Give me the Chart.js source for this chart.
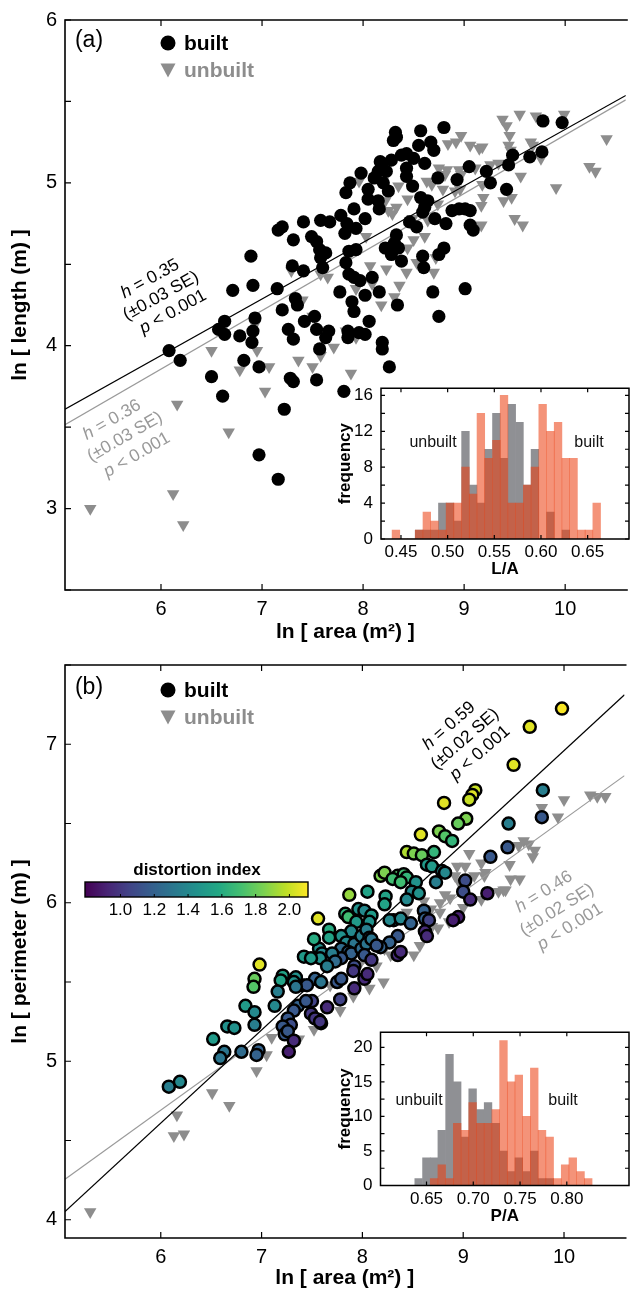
<!DOCTYPE html>
<html>
<head>
<meta charset="utf-8">
<title>Built vs unbuilt: length and perimeter scaling</title>
<script src="https://cdn.jsdelivr.net/npm/chart.js@4.4.1/dist/chart.umd.min.js"></script>
<style>
  html, body { margin: 0; padding: 0; background: #fff; }
  #page { position: relative; width: 633px; height: 1289px; overflow: hidden; }
  canvas { position: absolute; display: block; }
</style>
</head>
<body>
<div id="page">
  <canvas id="chartA" width="633" height="645" style="left:0;top:0"></canvas>
  <canvas id="chartB" width="633" height="644" style="left:0;top:645px"></canvas>
  <canvas id="histA" width="303" height="210" style="left:330px;top:370px"></canvas>
  <canvas id="histB" width="303" height="212" style="left:330px;top:1014px"></canvas>
</div>
<script>
// axis ticks
const areaTicks = [6, 7, 8, 9, 10];
const lengthTicks = [2.5, 3, 3.5, 4, 4.5, 5, 5.5, 6];
const lengthLabels = [3, 4, 5, 6];
const perimTicks = [4, 4.5, 5, 5.5, 6, 6.5, 7, 7.5];
const perimLabels = [4, 5, 6, 7];

// (a) ln area vs ln length
const builtA = [
  [6.08,3.97],[6.19,3.91],[6.50,3.81],[6.63,4.15],[6.57,4.10],[6.63,4.07],[6.71,4.34],[6.78,4.06],
  [6.82,3.91],[6.89,4.55],[6.91,4.37],[6.93,4.17],[6.91,4.09],[6.90,4.02],[6.97,3.87],[7.15,4.35],
  [7.16,4.71],[7.20,4.73],[7.20,4.22],[7.26,4.10],[7.31,4.04],[7.31,4.65],[7.33,4.29],[7.35,4.25],
  [7.30,4.49],[7.41,4.76],[7.41,4.46],[7.42,4.15],[7.52,4.18],[7.54,4.10],[7.49,4.67],[7.54,4.64],
  [7.57,4.59],[7.63,4.57],[7.58,4.54],[7.58,4.77],[7.67,4.76],[7.60,4.48],[7.66,4.09],[7.63,4.05],
  [7.57,3.98],[7.28,3.80],[7.31,3.78],[7.54,3.79],[7.77,4.33],[7.83,4.51],[7.86,4.58],[7.93,4.59],
  [7.86,4.44],[7.91,4.42],[7.97,4.40],[8.09,4.42],[7.89,4.27],[7.91,4.21],[8.02,4.31],[7.85,4.09],
  [7.85,4.05],[7.96,4.08],[8.02,4.07],[8.06,4.15],[7.78,4.80],[7.84,4.75],[7.91,4.84],[7.93,4.72],
  [7.82,4.69],[7.87,5.00],[7.83,4.94],[7.98,5.06],[8.02,4.78],[8.05,4.96],[8.05,4.90],[8.11,5.03],
  [7.81,3.72],[8.26,3.87],[8.19,4.02],[8.19,3.98],[6.61,3.69],[6.97,3.33],[7.16,3.18],[7.22,3.61],
  [8.32,5.31],[8.33,5.28],[8.57,5.32],[8.80,5.34],[8.55,5.23],[8.67,5.25],[8.70,5.20],[8.30,5.26],
  [8.38,5.17],[8.43,5.18],[8.50,5.15],[8.61,5.12],[8.28,5.14],[8.17,5.13],[8.18,5.10],[8.43,5.09],
  [8.43,5.04],[8.23,5.07],[8.15,5.07],[8.20,5.00],[8.25,4.95],[8.15,4.89],[8.16,4.84],[8.49,4.98],
  [8.74,5.03],[8.93,5.02],[9.05,5.10],[9.22,5.07],[9.26,5.00],[9.42,4.96],[9.44,5.11],[9.48,5.17],
  [9.65,5.16],[9.77,5.19],[9.78,5.38],[9.97,5.37],[8.57,4.91],[8.64,4.89],[8.61,4.85],[8.59,4.82],
  [8.71,4.78],[8.46,4.76],[8.53,4.73],[8.82,4.75],[8.88,4.83],[8.95,4.84],[9.01,4.84],[9.06,4.83],
  [9.06,4.74],[9.09,4.71],[8.33,4.68],[8.31,4.63],[8.35,4.60],[8.28,4.56],[8.22,4.60],[8.38,4.52],
  [8.59,4.55],[8.60,4.48],[8.80,4.60],[8.75,4.56],[8.16,4.33],[8.69,4.33],[9.01,4.35],[8.34,4.25],
  [8.75,4.18]
];
const unbuiltA = [
  [6.50,3.97],[6.78,3.85],[6.95,3.97],[7.07,3.87],[7.36,3.91],[7.50,3.87],[7.29,4.46],[7.40,4.28],
  [7.58,4.44],[7.65,4.42],[7.71,3.99],[7.88,3.83],[7.93,4.35],[7.96,5.01],[8.07,4.49],[8.09,4.38],
  [8.03,4.67],[7.83,4.09],[7.93,4.05],[6.93,4.13],[7.03,3.72],[7.58,3.94],[7.50,4.18],
  [5.30,3.00],[6.12,3.09],[6.22,2.90],[6.16,3.64],[6.67,3.47],
  [9.38,5.39],[9.42,5.35],[9.45,5.29],[9.44,5.23],[9.46,5.20],[9.55,5.42],[9.71,5.41],[9.99,5.42],
  [10.41,5.27],[8.97,5.29],[8.84,5.24],[8.92,5.25],[9.06,5.23],[9.15,5.21],[9.18,5.22],[9.66,5.25],
  [9.68,5.23],[9.76,5.15],[8.75,5.09],[8.83,5.08],[8.81,5.05],[8.95,5.08],[8.97,5.05],[9.11,5.09],
  [9.26,5.11],[9.34,5.12],[9.56,5.04],[10.24,5.10],[10.30,5.07],[9.91,4.97],[8.63,5.01],[8.68,4.99],
  [8.35,4.98],[8.79,4.96],[8.91,4.95],[8.96,4.96],[9.18,4.99],[9.19,4.91],[9.17,4.86],[9.39,4.89],
  [9.47,4.91],[9.50,4.78],[9.58,4.74],[9.17,4.74],[8.44,4.90],[8.22,4.89],[8.25,4.83],[8.29,4.81],
  [8.33,4.85],[8.74,4.87],[8.64,4.77],[8.49,4.78],[8.61,4.67],[8.50,4.65],[8.44,4.60],[8.72,4.54],
  [8.53,4.51],[8.70,4.45],[8.23,4.47],[8.43,4.45],[8.36,4.37],[8.31,4.30],[8.18,4.25]
];
// fitted lines, end points read at the frame edges
const fitBuiltA = [[5.05, 3.61], [10.6, 5.537]];
const fitUnbuiltA = [[5.05, 3.515], [10.6, 5.51]];

// (b) ln area vs ln perimeter, built points carry distortion index
const builtB = [
  [9.98,7.225,2.10],[9.66,7.11,2.05],[9.50,6.87,2.05],[9.12,6.71,2.00],[9.09,6.68,2.05],[9.06,6.65,2.00],
  [8.81,6.63,2.05],[9.03,6.53,1.85],[8.95,6.50,1.80],[8.58,6.43,2.05],[8.76,6.45,1.85],[8.82,6.42,1.75],
  [8.89,6.39,1.65],[8.44,6.32,1.95],[8.51,6.31,1.85],[8.59,6.30,1.80],[8.71,6.32,1.65],[8.64,6.24,1.50],
  [8.69,6.23,1.50],[8.79,6.20,1.40],[8.82,6.19,1.40],[8.73,6.13,1.35],[9.79,6.71,1.35],[9.45,6.50,1.35],
  [9.78,6.54,1.15],[9.44,6.35,1.15],[9.27,6.29,1.15],[9.02,6.14,1.10],[9.00,6.07,1.10],[9.07,6.02,0.95],
  [9.24,6.06,0.90],[8.95,5.91,0.90],[8.90,5.89,0.90],[8.18,6.17,1.85],[8.22,6.19,1.85],[8.35,6.17,1.75],
  [8.41,6.18,1.70],[8.44,6.16,1.65],[8.23,6.04,1.55],[8.22,5.99,1.55],[8.30,6.15,1.70],[8.38,6.13,1.70],
  [8.53,6.13,1.45],[8.49,6.07,1.40],[8.44,6.02,1.40],[8.56,6.06,1.45],[8.61,5.95,1.20],[8.62,5.90,1.20],
  [8.66,5.89,1.05],[8.62,5.82,0.95],[8.64,5.79,0.95],[8.31,5.89,1.40],[8.27,5.89,1.40],[8.38,5.90,1.40],
  [8.48,5.87,1.20],[8.35,5.79,1.15],[8.27,5.75,1.20],[8.18,5.72,1.20],[8.35,5.67,0.95],[8.38,5.69,0.95],
  [7.87,6.05,1.90],[8.05,6.07,1.55],[7.83,5.93,1.65],[7.86,5.91,1.70],[7.96,5.96,1.45],[8.02,5.95,1.40],
  [8.09,5.92,1.50],[8.07,5.88,1.45],[7.94,5.88,1.50],[7.89,5.82,1.40],[7.79,5.79,1.45],[7.84,5.75,1.40],
  [7.92,5.74,1.30],[7.99,5.79,1.35],[8.04,5.83,1.35],[8.07,5.78,1.20],[7.79,5.71,1.25],[7.86,5.69,1.20],
  [7.89,5.68,1.20],[7.99,5.71,1.25],[8.04,5.74,1.30],[8.09,5.77,1.30],[8.14,5.73,1.15],[8.02,5.67,1.15],
  [8.09,5.64,1.00],[7.92,5.60,1.10],[7.91,5.57,1.00],[7.79,5.65,1.15],[7.92,5.46,0.95],[8.02,5.52,0.95],
  [8.05,5.55,0.95],[7.78,5.39,1.05],[7.65,5.34,0.95],[7.57,5.26,0.90],[7.59,5.24,0.90],[7.56,5.90,2.05],
  [7.67,5.83,1.60],[7.67,5.78,1.55],[7.57,5.71,1.45],[7.60,5.68,1.40],[7.58,5.65,1.45],[7.42,5.66,1.50],
  [7.49,5.65,1.50],[7.53,5.52,1.20],[7.59,5.50,1.30],[7.40,5.48,1.15],[7.45,5.48,1.15],[7.34,5.53,1.45],
  [7.32,5.50,1.45],[7.21,5.54,1.55],[7.19,5.51,1.55],[7.16,5.44,1.35],[7.36,5.35,1.20],[7.32,5.32,1.15],
  [7.26,5.27,1.15],[7.29,5.23,1.10],[7.21,5.22,1.15],[7.23,5.17,1.15],[7.26,5.19,1.15],[7.32,5.13,0.95],
  [7.27,5.06,0.90],[7.49,5.30,1.00],[7.53,5.27,1.00],[7.58,5.25,1.00],[7.50,5.38,1.05],[7.44,5.38,1.15],
  [6.98,5.61,2.05],[6.93,5.52,1.80],[6.92,5.47,1.75],[6.84,5.35,1.50],[6.93,5.31,1.40],[6.93,5.23,1.35],
  [6.97,5.07,1.20],[6.95,5.04,1.20],[6.80,5.06,1.25],[6.66,5.22,1.45],[6.73,5.21,1.45],[6.52,5.14,1.50],
  [6.63,5.06,1.30],[6.59,5.02,1.30],[7.13,5.35,1.40],[7.34,5.47,1.30],[7.52,5.77,1.60],[7.70,5.68,1.35],
  [7.73,5.63,1.25],[7.75,5.50,1.15],[7.79,5.52,1.15],[7.65,5.60,1.35],[6.08,4.84,1.35],[6.19,4.87,1.40]
];
const unbuiltB = [
  [10.00,6.65],[10.26,6.68],[10.33,6.67],[10.41,6.67],[9.94,6.54],[9.78,6.60],[9.60,6.39],[9.65,6.37],
  [9.71,6.33],[9.69,6.29],[9.55,6.36],[9.46,6.24],[9.06,6.31],[9.18,6.25],[9.22,6.19],[8.94,6.23],
  [9.11,6.17],[9.21,6.17],[9.47,6.15],[9.56,6.15],[9.35,6.07],[9.40,6.08],[9.18,6.02],[8.92,6.17],
  [8.96,6.13],[8.82,6.05],[8.87,6.03],[8.61,6.01],[9.00,5.97],[8.77,5.94],[8.69,5.85],[8.75,5.84],
  [8.57,5.73],[8.51,5.67],[8.44,5.94],[8.68,5.96],[8.77,6.00],[8.86,5.88],[8.63,5.85],[9.42,6.08],
  [9.02,6.23],[8.21,5.50],[7.97,5.61],[7.68,5.48],[7.52,5.20],[7.37,5.14],[7.10,5.15],[7.05,5.04],
  [6.95,4.94],[8.22,5.71],[8.28,5.67],[8.14,5.60],[8.07,5.46],[7.91,5.41],[7.78,5.32],
  [5.30,4.05],[6.16,4.66],[6.13,4.53],[6.23,4.54],[6.51,4.80],[6.68,4.72]
];
const fitBuiltB = [[5.05, 4.052], [10.6, 7.3125]];
const fitUnbuiltB = [[5.05, 4.256], [10.6, 6.802]];

// colour bar (distortion index)
const cbMin = 0.79, cbMax = 2.11;
const cbTicks = [1.0, 1.2, 1.4, 1.6, 1.8, 2.0];

// inset histograms
const binsLA = [0.4446,0.4529,0.4612,0.4694,0.4777,0.4860,0.4943,0.5025,0.5108,0.5191,0.5273,0.5356,0.5439,
  0.5522,0.5604,0.5687,0.5770,0.5852,0.5935,0.6018,0.6101,0.6183,0.6266,0.6349,0.6432,0.6514,0.6597];
const builtLA   = [1,0,0,1,3,2,1,4,4,8,5,14,9,11,16,4,4,6,8,15,12,13,9,9,1,1,4];
const unbuiltLA = [0,0,0,1,1,1,4,4,2,12,6,4,10,14,9,15,13,6,10,0,3,0,1,0,0,0,0];
const ticksLA = [0.45, 0.50, 0.55, 0.60, 0.65];

const binsPA = [0.6416,0.6499,0.6581,0.6663,0.6746,0.6828,0.6911,0.6993,0.7075,0.7158,0.7240,0.7323,
  0.7405,0.7487,0.7570,0.7652,0.7735,0.7817,0.7899,0.7982,0.8064,0.8147,0.8229];
const builtPA   = [0,0,1,3,1,9,8,12,9,9,11,21,15,16,10,17,8,7,1,3,4,2,1];
const unbuiltPA = [1,4,4,8,19,15,7,14,11,12,9,5,2,4,2,5,1,1,0,0,0,0,0];
const ticksPA = [0.65, 0.70, 0.75, 0.80];

const FONT = "'Liberation Sans', Arial, Helvetica, sans-serif";
const GREY = '#8d8d8d';
Chart.defaults.font.family = FONT;
Chart.defaults.color = '#000';

const viridisStops = [[68,1,84],[72,36,117],[65,68,135],[53,95,141],[42,120,142],[33,145,140],
  [34,168,132],[68,191,112],[122,209,81],[189,223,38],[253,231,37]];

function viridis(v) {
  let t = (v - cbMin) / (cbMax - cbMin);
  t = Math.max(0, Math.min(1, t)) * 10;
  const i = Math.min(9, Math.floor(t));
  const f = t - i;
  const a = viridisStops[i], b = viridisStops[i + 1];
  const c = a.map((ch, k) => Math.round(ch + (b[k] - ch) * f));
  return `rgb(${c[0]},${c[1]},${c[2]})`;
}

const toXY = arr => arr.map(p => ({ x: p[0], y: p[1] }));

// draw text made of parts, some italic, centred and rotated
function richText(ctx, parts, x, y, angle, size, color) {
  ctx.save();
  ctx.translate(x, y);
  ctx.rotate(angle * Math.PI / 180);
  ctx.fillStyle = color;
  ctx.textBaseline = 'middle';
  ctx.textAlign = 'left';
  const fontOf = p => `${p.i ? 'italic ' : ''}${p.b ? 'bold ' : ''}${size}px ${FONT}`;
  let w = 0;
  parts.forEach(p => { ctx.font = fontOf(p); w += ctx.measureText(p.t).width; });
  let cx = -w / 2;
  parts.forEach(p => { ctx.font = fontOf(p); ctx.fillText(p.t, cx, 0); cx += ctx.measureText(p.t).width; });
  ctx.restore();
}

function statLines(h, se) {
  return [
    [{ t: 'h', i: true }, { t: ' = ' + h }],
    [{ t: '(±' + se + ' SE)' }],
    [{ t: 'p', i: true }, { t: ' < 0.001' }]
  ];
}

// frame with inward ticks
function framePlugin(opts) {
  return {
    id: 'frame',
    beforeDatasetsDraw(chart) {
      if (!opts.fill) return;
      const { ctx, chartArea: a } = chart;
      ctx.save();
      ctx.fillStyle = '#fff';
      ctx.fillRect(a.left, a.top, a.right - a.left, a.bottom - a.top);
      ctx.restore();
    },
    afterDatasetsDraw(chart) {
      const { ctx, chartArea: a, scales } = chart;
      const x = scales.x, y = scales.y;
      ctx.save();
      ctx.strokeStyle = '#000';
      ctx.lineWidth = 1.2;
      ctx.beginPath();
      x.ticks.forEach(t => {
        const px = x.getPixelForValue(t.value);
        ctx.moveTo(px, a.bottom); ctx.lineTo(px, a.bottom - opts.len);
        ctx.moveTo(px, a.top); ctx.lineTo(px, a.top + opts.len);
      });
      y.ticks.forEach(t => {
        const py = y.getPixelForValue(t.value);
        ctx.moveTo(a.left, py); ctx.lineTo(a.left + opts.len, py);
        if (opts.right) { ctx.moveTo(a.right, py); ctx.lineTo(a.right - opts.len, py); }
      });
      ctx.stroke();
      ctx.lineWidth = opts.width;
      ctx.beginPath();
      if (opts.right) {
        ctx.rect(a.left, a.top, a.right - a.left, a.bottom - a.top);
      } else {
        ctx.moveTo(a.right + 2, a.top); ctx.lineTo(a.left, a.top);
        ctx.lineTo(a.left, a.bottom); ctx.lineTo(a.right + 2, a.bottom);
      }
      ctx.stroke();
      ctx.restore();
    }
  };
}

function legendBlock(ctx, tag, tagY, circleY, triY, circleFill) {
  ctx.save();
  ctx.textBaseline = 'middle';
  ctx.font = `23px ${FONT}`;
  ctx.fillStyle = '#000';
  ctx.textAlign = 'center';
  ctx.fillText(tag, 89, tagY);
  ctx.beginPath();
  ctx.arc(168, circleY, 7.5, 0, Math.PI * 2);
  ctx.fillStyle = circleFill;
  ctx.fill();
  ctx.fillStyle = GREY;
  ctx.beginPath();
  ctx.moveTo(160.5, triY - 6.5); ctx.lineTo(175.5, triY - 6.5); ctx.lineTo(168, triY + 7.5);
  ctx.closePath();
  ctx.fill();
  ctx.textAlign = 'left';
  ctx.font = `bold 21px ${FONT}`;
  ctx.fillStyle = '#000';
  ctx.fillText('built', 184, circleY + 1);
  ctx.fillStyle = GREY;
  ctx.fillText('unbuilt', 184, triY + 1);
  ctx.restore();
}

function scatterScales(yMin, yMax, yTicks, yLabels, yTitle, xHeight, titlePad) {
  return {
    x: {
      type: 'linear', min: 5.05, max: 10.6,
      afterBuildTicks: s => { s.ticks = areaTicks.map(v => ({ value: v })); },
      afterFit: s => { s.height = xHeight; },
      grid: { display: false, drawTicks: false },
      border: { display: false },
      ticks: { font: { size: 20 }, padding: 7, maxRotation: 0, autoSkip: false, color: '#000' },
      title: { display: true, text: 'ln [ area (m²) ]', color: '#000',
        font: { size: 21, weight: 'bold', lineHeight: 1 }, padding: { top: 0, bottom: titlePad } }
    },
    y: {
      type: 'linear', min: yMin, max: yMax,
      afterBuildTicks: s => { s.ticks = yTicks.map(v => ({ value: v })); },
      afterFit: s => { s.width = 65; },
      grid: { display: false, drawTicks: false },
      border: { display: false },
      ticks: { font: { size: 20 }, padding: 8, color: '#000', autoSkip: false,
        callback: v => yLabels.includes(v) ? String(v) : '' },
      title: { display: true, text: yTitle, color: '#000',
        font: { size: 21, weight: 'bold', lineHeight: 1 }, padding: { top: 9.5, bottom: 0 } }
    }
  };
}

// panel (a)
function drawPanelA() {
  new Chart(document.getElementById('chartA'), {
    type: 'scatter',
    data: {
      datasets: [
        { label: 'built', data: toXY(builtA), pointStyle: 'circle', pointRadius: 6.6,
          backgroundColor: '#000', borderWidth: 0, order: 0 },
        { type: 'line', data: toXY(fitBuiltA), borderColor: '#000', borderWidth: 1.2, pointRadius: 0, order: 1 },
        { type: 'line', data: toXY(fitUnbuiltA), borderColor: '#9a9a9a', borderWidth: 1.2, pointRadius: 0, order: 1 },
        { label: 'unbuilt', data: toXY(unbuiltA), pointStyle: 'triangle', pointRotation: 180, pointRadius: 7.2,
          backgroundColor: GREY, borderWidth: 0, order: 2 }
      ]
    },
    options: {
      responsive: false, animation: false, devicePixelRatio: 1, events: [],
      layout: { padding: { top: 16, right: 0, left: 0, bottom: 0 } },
      plugins: { legend: { display: false }, tooltip: { enabled: false } },
      scales: scatterScales(2.5, 6, lengthTicks, lengthLabels, 'ln [ length (m) ]', 55, 2.5)
    },
    plugins: [framePlugin({ len: 6, width: 1.6, right: false }), {
      id: 'notesA',
      afterDraw(chart) {
        const ctx = chart.ctx;
        legendBlock(ctx, '(a)', 41, 43, 70, '#000');
        const bl = statLines('0.35', '0.03');
        const bpos = [[150, 279], [161, 296], [173, 312]];
        bl.forEach((l, i) => richText(ctx, l, bpos[i][0], bpos[i][1], -29, 17.5, '#000'));
        const gl = statLines('0.36', '0.03');
        const gpos = [[112, 420], [125, 437], [137, 455]];
        gl.forEach((l, i) => richText(ctx, l, gpos[i][0], gpos[i][1], -30, 17.5, '#999'));
      }
    }]
  });
}

// panel (b)
function drawPanelB() {
  new Chart(document.getElementById('chartB'), {
    type: 'scatter',
    data: {
      datasets: [
        { label: 'built', data: toXY(builtB), pointStyle: 'circle', pointRadius: 6,
          pointBackgroundColor: builtB.map(p => viridis(p[2])), pointBorderColor: '#000',
          pointBorderWidth: 2.5, order: 0 },
        { type: 'line', data: toXY(fitBuiltB), borderColor: '#000', borderWidth: 1.2, pointRadius: 0, order: 1 },
        { type: 'line', data: toXY(fitUnbuiltB), borderColor: '#9a9a9a', borderWidth: 1.2, pointRadius: 0, order: 1 },
        { label: 'unbuilt', data: toXY(unbuiltB), pointStyle: 'triangle', pointRotation: 180, pointRadius: 7.2,
          backgroundColor: GREY, borderWidth: 0, order: 2 }
      ]
    },
    options: {
      responsive: false, animation: false, devicePixelRatio: 1, events: [],
      layout: { padding: { top: 15, right: 0, left: 0, bottom: 0 } },
      plugins: { legend: { display: false }, tooltip: { enabled: false } },
      scales: scatterScales(3.885, 7.5, perimTicks, perimLabels, 'ln [ perimeter (m) ]', 51, 0.5)
    },
    plugins: [framePlugin({ len: 6, width: 1.6, right: false }), {
      id: 'notesB',
      afterDraw(chart) {
        const ctx = chart.ctx;
        legendBlock(ctx, '(b)', 43, 45, 72, '#000');
        const bl = statLines('0.59', '0.02');
        const bpos = [[449, 81], [465, 94], [480, 108]];
        bl.forEach((l, i) => richText(ctx, l, bpos[i][0], bpos[i][1], -41, 17.5, '#000'));
        const gl = statLines('0.46', '0.02');
        const gpos = [[544, 247], [557, 265], [570, 282]];
        gl.forEach((l, i) => richText(ctx, l, gpos[i][0], gpos[i][1], -32, 17.5, '#999'));

        // colour bar
        const x0 = 85, x1 = 308, y0 = 237, y1 = 252;
        const g = ctx.createLinearGradient(x0, 0, x1, 0);
        viridisStops.forEach((c, i) => g.addColorStop(i / 10, `rgb(${c[0]},${c[1]},${c[2]})`));
        ctx.save();
        ctx.fillStyle = g;
        ctx.fillRect(x0, y0, x1 - x0, y1 - y0);
        ctx.strokeStyle = '#000';
        ctx.lineWidth = 1.4;
        ctx.strokeRect(x0, y0, x1 - x0, y1 - y0);
        ctx.lineWidth = 1;
        ctx.fillStyle = '#000';
        ctx.textAlign = 'center';
        ctx.textBaseline = 'middle';
        ctx.font = `17px ${FONT}`;
        cbTicks.forEach(v => {
          const px = x0 + (v - cbMin) / (cbMax - cbMin) * (x1 - x0);
          ctx.beginPath();
          ctx.moveTo(px, y1); ctx.lineTo(px, y1 - 3);
          ctx.stroke();
          ctx.fillText(v.toFixed(1), px, 265);
        });
        ctx.font = `bold 17px ${FONT}`;
        ctx.fillText('distortion index', 197, 225);
        ctx.restore();
      }
    }]
  });
}

// inset histogram
function drawHist(id, bins, built, unbuilt, xMin, xMax, yMax, xTicks, yTicks, yLabels, xTitle, geo, notes) {
  new Chart(document.getElementById(id), {
    type: 'bar',
    data: {
      datasets: [
        { label: 'built', data: bins.map((b, i) => ({ x: b, y: built[i] })),
          backgroundColor: 'rgba(235,62,16,0.56)', borderWidth: 0,
          grouped: false, barPercentage: 1, categoryPercentage: 1 },
        { label: 'unbuilt', data: bins.map((b, i) => ({ x: b, y: unbuilt[i] })),
          backgroundColor: '#8f9094', borderWidth: 0,
          grouped: false, barPercentage: 1, categoryPercentage: 1 }
      ]
    },
    options: {
      responsive: false, animation: false, devicePixelRatio: 1, events: [],
      layout: { padding: { top: 10, right: geo.right, left: 0, bottom: 0 } },
      plugins: { legend: { display: false }, tooltip: { enabled: false } },
      scales: {
        x: {
          type: 'linear', offset: false, min: xMin, max: xMax,
          afterBuildTicks: s => { s.ticks = xTicks.map(v => ({ value: v })); },
          afterFit: s => { s.height = geo.xh; },
          grid: { display: false, drawTicks: false },
          border: { display: false },
          ticks: { font: { size: 17 }, padding: geo.xpad, maxRotation: 0, autoSkip: false, color: '#000',
            callback: v => v.toFixed(2) },
          title: { display: true, text: xTitle, color: '#000',
            font: { size: 17, weight: 'bold', lineHeight: 1 }, padding: { top: 0, bottom: geo.tpad } }
        },
        y: {
          type: 'linear', min: 0, max: yMax,
          afterBuildTicks: s => { s.ticks = yTicks.map(v => ({ value: v })); },
          afterFit: s => { s.width = geo.yw; },
          grid: { display: false, drawTicks: false },
          border: { display: false },
          ticks: { font: { size: 17 }, padding: 8, color: '#000', autoSkip: false,
            callback: v => yLabels.includes(v) ? String(v) : '' },
          title: { display: true, text: 'frequency', color: '#000',
            font: { size: 17, weight: 'bold', lineHeight: 1 }, padding: { top: 6.5, bottom: 0 } }
        }
      }
    },
    plugins: [framePlugin({ len: 4, width: 1.5, right: true, fill: true }), {
      id: 'histNotes',
      afterDraw(chart) {
        const ctx = chart.ctx;
        ctx.save();
        ctx.font = `16px ${FONT}`;
        ctx.fillStyle = '#111';
        ctx.textAlign = 'center';
        ctx.textBaseline = 'middle';
        ctx.fillText('unbuilt', notes[0][0], notes[0][1]);
        ctx.fillText('built', notes[1][0], notes[1][1]);
        ctx.restore();
      }
    }]
  });
}

drawPanelA();
drawPanelB();
drawHist('histA', binsLA, builtLA, unbuiltLA, 0.4286, 0.6943, 16.8, ticksLA,
  [0, 2, 4, 6, 8, 10, 12, 14, 16], [0, 4, 8, 12, 16], 'L/A',
  { right: 4, xh: 41, xpad: 3, tpad: 2.5, yw: 51 }, [[103, 73], [259, 73]]);
drawHist('histB', binsPA, builtPA, unbuiltPA, 0.6008, 0.8665, 22.2, ticksPA,
  [0, 2.5, 5, 7.5, 10, 12.5, 15, 17.5, 20], [0, 5, 10, 15, 20], 'P/A',
  { right: 4, xh: 40.5, xpad: 4, tpad: 1.5, yw: 50.5 }, [[89, 87], [233, 87]]);
</script>
</body>
</html>
